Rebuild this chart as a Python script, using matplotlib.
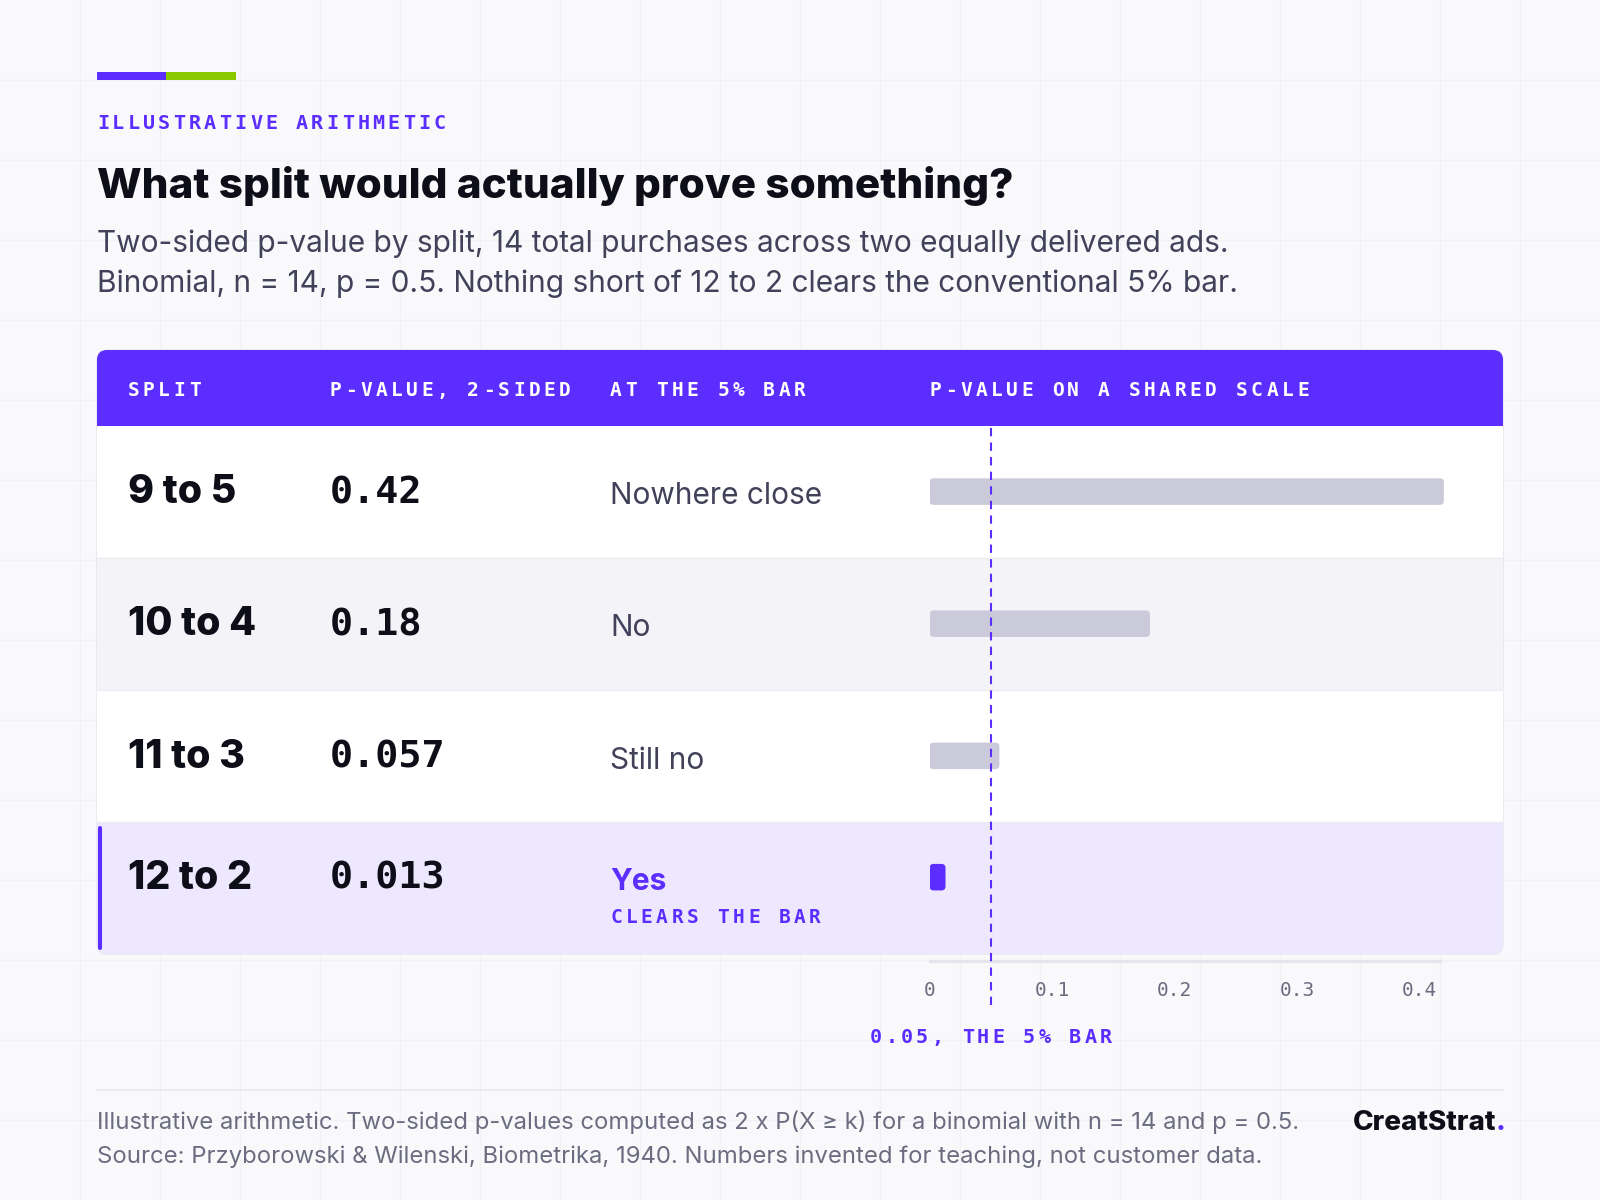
import matplotlib
matplotlib.use("Agg")
import matplotlib.pyplot as plt
from matplotlib.patches import FancyBboxPatch, Rectangle

# ---------------- data ----------------
splits = ["9 to 5", "10 to 4", "11 to 3", "12 to 2"]
p_values = [0.42, 0.18, 0.057, 0.013]
p_labels = ["0.42", "0.18", "0.057", "0.013"]
verdicts = ["Nowhere close", "No", "Still no", "Yes"]
clears_bar = [False, False, False, True]
threshold = 0.05
tick_values = [0, 0.1, 0.2, 0.3, 0.4]
tick_labels = ["0", "0.1", "0.2", "0.3", "0.4"]
headers = ["SPLIT", "P-VALUE, 2-SIDED", "AT THE 5% BAR", "P-VALUE ON A SHARED SCALE"]

# ---------------- style ----------------
PURPLE = "#5B2EFF"
GREEN = "#8CC800"
BG = "#F9F9FC"
GRIDC = "#F1F1F6"
INK = "#0E0E18"
SUB = "#41415A"
MUTED = "#6C6C80"
BARGRAY = "#CBCADA"
ROWALT = "#F4F4F8"
ROWHI = "#EDE8FE"
SANS = ["Inter", "DejaVu Sans"]
MONO = ["DejaVu Sans Mono"]

W, H = 1568, 1176          # layout units (render at 1600x1200)
PT = 0.7347                # points per layout unit

fig = plt.figure(figsize=(16, 12), dpi=100, facecolor=BG)
ax = fig.add_axes([0, 0, 1, 1])
ax.set_xlim(0, W)
ax.set_ylim(H, 0)
ax.axis("off")
ax.set_facecolor(BG)

# faint background grid
g = 80 * W / 1600
k = 1
while k * g < W:
    ax.axvline(k * g, color=GRIDC, lw=1, zorder=0)
    k += 1
k = 1
while k * g < H:
    ax.axhline(k * g, color=GRIDC, lw=1, zorder=0)
    k += 1


def spaced(x, y, s, size, pitch, ha="left", **kw):
    em = size / PT
    adv = 0.602 * em
    n = len(s)
    total = (n - 1) * pitch + adv
    if ha == "center":
        x0 = x - total / 2
    elif ha == "right":
        x0 = x - total
    else:
        x0 = x
    for i, ch in enumerate(s):
        ax.text(x0 + i * pitch + adv / 2, y, ch, ha="center", va="baseline",
                fontsize=size, family=MONO, **kw)


# top accent
ax.add_patch(Rectangle((95, 71), 68, 7, color=PURPLE, lw=0))
ax.add_patch(Rectangle((163, 71), 68, 7, color=GREEN, lw=0))

spaced(95, 126, "ILLUSTRATIVE ARITHMETIC", 14.5, 15, color=PURPLE, weight="bold")
ax.text(95, 194, "What split would actually prove something?", fontsize=30.4,
        family=SANS, weight=800, color=INK, va="baseline")
ax.text(95, 247, "Two-sided p-value by split, 14 total purchases across two equally delivered ads.",
        fontsize=21.5, family=SANS, color=SUB, va="baseline")
ax.text(95, 286, "Binomial, n = 14, p = 0.5. Nothing short of 12 to 2 clears the conventional 5% bar.",
        fontsize=21.5, family=SANS, color=SUB, va="baseline")

# ---------------- table ----------------
TX0, TX1 = 95, 1473
HY0, HY1 = 343, 417
RY1 = 935
row_h = (RY1 - HY1) / len(splits)

table = FancyBboxPatch((TX0, HY0), TX1 - TX0, RY1 - HY0,
                       boxstyle="round,pad=0,rounding_size=10",
                       fc="white", ec="#E6E6EE", lw=1, zorder=1)
ax.add_patch(table)

hdr = Rectangle((TX0, HY0), TX1 - TX0, HY1 - HY0, fc=PURPLE, lw=0, zorder=2)
ax.add_patch(hdr)
hdr.set_clip_path(table)

col_x = [125, 323, 598, 911]
for hx, hl in zip(col_x, headers):
    spaced(hx, 388, hl, 14, 15, color="white", weight="bold", zorder=3)

for i, (sp, pl, vd, ok) in enumerate(zip(splits, p_labels, verdicts, clears_bar)):
    y0 = HY1 + i * row_h
    fc = ROWHI if ok else (ROWALT if i % 2 == 1 else "white")
    r = Rectangle((TX0, y0), TX1 - TX0, row_h, fc=fc, lw=0, zorder=2)
    ax.add_patch(r)
    r.set_clip_path(table)
    if i > 0:
        ax.plot([TX0, TX1], [y0, y0], color="#ECECF2", lw=1, zorder=2.5)
    yc = y0 + row_h / 2
    base = yc + 11.5 - (11 if ok else 0)
    if ok:
        ax.add_patch(FancyBboxPatch((TX0 + 1, y0 + 4), 4, row_h - 8,
                                    boxstyle="round,pad=0,rounding_size=2",
                                    fc=PURPLE, lw=0, zorder=3))
    ax.text(col_x[0], base, sp, fontsize=28.3, family=SANS, weight=800,
            color=INK, va="baseline", zorder=3)
    ax.text(col_x[1], base, pl, fontsize=27.7, family=MONO, weight="bold",
            color=INK, va="baseline", zorder=3)
    ax.text(col_x[2], base + 1, vd, fontsize=21.5, family=SANS,
            weight="bold" if ok else "normal",
            color=PURPLE if ok else SUB, va="baseline", zorder=3)
    if ok:
        spaced(col_x[2], base + 34, "CLEARS THE BAR", 14, 15,
               color=PURPLE, weight="bold", zorder=3)

# ---------------- bar axes ----------------
xmax = 0.42
px_per_unit = 1200
bx_x0 = 911
bx_w = xmax * px_per_unit
bx = fig.add_axes([bx_x0 / W, 1 - RY1 / H, bx_w / W, (RY1 - HY1) / H])
bx.set_facecolor("none")
bx.set_xlim(0, xmax)
n = len(splits)
bx.set_ylim(n - 0.5, -0.5)
ypos = [i - (0.082 if ok else 0) for i, ok in enumerate(clears_bar)]
bar_h = 26 / row_h
bars = bx.barh(ypos, p_values, height=bar_h,
               color=[PURPLE if ok else BARGRAY for ok in clears_bar])
xu = xmax / bx_w
yu = n / (RY1 - HY1)
for b in bars:
    b.set_visible(False)
    fb = FancyBboxPatch((b.get_x(), b.get_y()), b.get_width(), b.get_height(),
                        boxstyle=f"round,pad=0,rounding_size={4 * xu}",
                        mutation_aspect=yu / xu, fc=b.get_facecolor(), lw=0, zorder=2)
    bx.add_patch(fb)

bx.axvline(threshold, ymin=-(985 - RY1) / (RY1 - HY1), ymax=1, clip_on=False,
           color=PURPLE, lw=1.5, ls=(0, (4, 3)), zorder=4)

for s in ["top", "right", "left"]:
    bx.spines[s].set_visible(False)
bx.spines["bottom"].set_position(("outward", 7 * PT))
bx.spines["bottom"].set_color("#E4E4EC")
bx.spines["bottom"].set_linewidth(3 * PT)
bx.spines["bottom"].set_bounds(0, 0.4167)
bx.set_yticks([])
bx.set_xticks(tick_values)
bx.set_xticklabels(tick_labels, family=MONO, fontsize=14, color=MUTED)
bx.tick_params(axis="x", length=0, pad=14)

spaced(bx_x0 + threshold * px_per_unit, 1022, "0.05, THE 5% BAR", 14.5, 15,
       ha="center", color=PURPLE, weight="bold")

# ---------------- footer ----------------
ax.plot([TX0, TX1], [1068, 1068], color="#E8E8EF", lw=1.2)
ax.text(95, 1106, "Illustrative arithmetic. Two-sided p-values computed as 2 x P(X \u2265 k) for a binomial with n = 14 and p = 0.5.",
        fontsize=17.2, family=SANS, color=MUTED, va="baseline")
ax.text(95, 1140, "Source: Przyborowski & Wilenski, Biometrika, 1940. Numbers invented for teaching, not customer data.",
        fontsize=17.2, family=SANS, color=MUTED, va="baseline")
ax.text(1466, 1107, "CreatStrat", fontsize=20, family=SANS, weight=800,
        color=INK, ha="right", va="baseline")
ax.text(1466, 1107, ".", fontsize=20, family=SANS, weight=800,
        color=PURPLE, ha="left", va="baseline")

fig.savefig("out.png", dpi=100, facecolor=BG)
